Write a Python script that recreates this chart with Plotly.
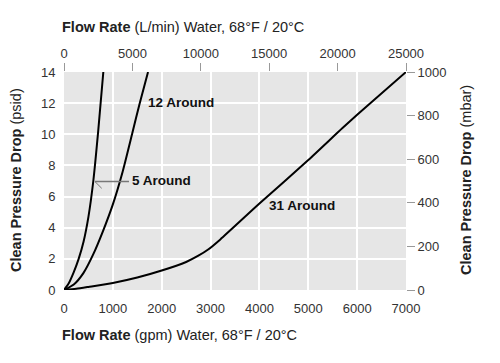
import plotly.graph_objects as go

# 5 Around
gpm_5 = [0, 100, 200, 300, 400, 500, 600, 700, 805]
psid_5 = [0, 0.45, 1.15, 2.0, 3.1, 4.7, 7.0, 10.2, 14]
# 12 Around
gpm_12 = [0, 200, 400, 600, 800, 1000, 1200, 1400, 1550, 1720]
psid_12 = [0, 0.35, 1.1, 2.3, 3.8, 5.5, 7.6, 10.1, 12.0, 14]
# 31 Around
gpm_31 = [0, 250, 500, 1000, 1500, 2000, 2500, 2750, 2950, 3200, 4000, 5000, 5700, 6000, 7000]
psid_31 = [0, 0.08, 0.2, 0.45, 0.8, 1.25, 1.8, 2.2, 2.6, 3.25, 5.55, 8.35, 10.4, 11.25, 14]

bottom_ticks = [0, 1000, 2000, 3000, 4000, 5000, 6000, 7000]
top_ticks = [0, 5000, 10000, 15000, 20000, 25000]
left_ticks = [0, 2, 4, 6, 8, 10, 12, 14]
right_ticks = [0, 200, 400, 600, 800, 1000]

FONT = "Liberation Sans, Arial, sans-serif"
fig = go.Figure()
for xs, ys in [(gpm_5, psid_5), (gpm_12, psid_12), (gpm_31, psid_31)]:
    fig.add_trace(go.Scatter(x=xs, y=ys, mode="lines", line=dict(color="black", width=2, shape="spline", smoothing=0.6),
                             hoverinfo="skip", showlegend=False))
# invisible trace on secondary axes
fig.add_trace(go.Scatter(x=[top_ticks[0], top_ticks[-1]], y=[right_ticks[0], right_ticks[-1]], xaxis="x2", yaxis="y2",
                         mode="markers", marker=dict(opacity=0), hoverinfo="skip", showlegend=False))

tickfont = dict(family=FONT, size=13, color="#333")
fig.update_layout(
    width=500, height=363,
    margin=dict(l=56, r=102, t=64, b=81),
    paper_bgcolor="white", plot_bgcolor="#e6e6e6",
    font=dict(family=FONT, color="#222"),
    xaxis=dict(range=[0, 7000], tickvals=bottom_ticks, ticktext=[str(v) for v in bottom_ticks],
               showgrid=True, gridcolor="white", gridwidth=2,
               zeroline=False, ticks="outside", ticklen=6, tickcolor="rgba(0,0,0,0)", tickfont=tickfont,
               showline=False, fixedrange=True),
    yaxis=dict(range=[0, 14], tickvals=left_ticks, ticktext=[str(v) for v in left_ticks],
               showgrid=True, gridcolor="white", gridwidth=2,
               zeroline=False, ticks="outside", ticklen=5, tickcolor="rgba(0,0,0,0)", tickfont=tickfont,
               showline=False, fixedrange=True),
    xaxis2=dict(range=[0, 25000], tickvals=top_ticks, ticktext=[str(v) for v in top_ticks],
                overlaying="x", side="top", showgrid=False, zeroline=False,
                ticks="outside", ticklen=8, tickcolor="#999", tickwidth=1, tickfont=tickfont, fixedrange=True),
    yaxis2=dict(range=[0, 1000], tickvals=right_ticks, ticktext=[str(v) for v in right_ticks],
                overlaying="y", side="right", showgrid=False, zeroline=False,
                ticks="outside", ticklen=8, tickcolor="#999", tickwidth=1, tickfont=tickfont, fixedrange=True),
)

# leader line for "5 Around"
fig.add_shape(type="line", xref="x", yref="y", x0=634, x1=1330, y0=6.96, y1=6.96, line=dict(color="#777", width=1.5))
fig.add_shape(type="line", xref="x", yref="y", x0=634, x1=772, y0=6.96, y1=6.53, line=dict(color="#777", width=1))

labfont = dict(family=FONT, size=13.5, color="#111")
fig.add_annotation(x=1678, y=12.05, xref="x", yref="y", text="<b>12 Around</b>", showarrow=False, xanchor="left", font=labfont)
fig.add_annotation(x=1351, y=7.02, xref="x", yref="y", text="<b>5 Around</b>", showarrow=False, xanchor="left", font=labfont)
fig.add_annotation(x=4155, y=5.4, xref="x", yref="y", text="<b>31 Around</b>", showarrow=False, xanchor="left", font=labfont)

tfont = dict(family=FONT, size=14.5, color="#222")
def px(x, y):
    return (x - 64) / 342, (290 - y) / 218

for (x, y), txt, ang, anch in [
    ((60, 27), "<b>Flow Rate</b> (L/min) Water, 68°F / 20°C", 0, "left"),
    ((60, 335), "<b>Flow Rate</b> (gpm) Water, 68°F / 20°C", 0, "left"),
    ((16, 180), "<b>Clean Pressure Drop</b> (psid)", -90, "center"),
    ((466, 180), "<b>Clean Pressure Drop</b> (mbar)", -90, "center"),
]:
    xp, yp = px(x, y)
    fig.add_annotation(x=xp, y=yp, xref="paper", yref="paper", text=txt, showarrow=False, textangle=ang,
                       xanchor=anch, yanchor="middle", font=tfont)

fig.write_html("out.html")
